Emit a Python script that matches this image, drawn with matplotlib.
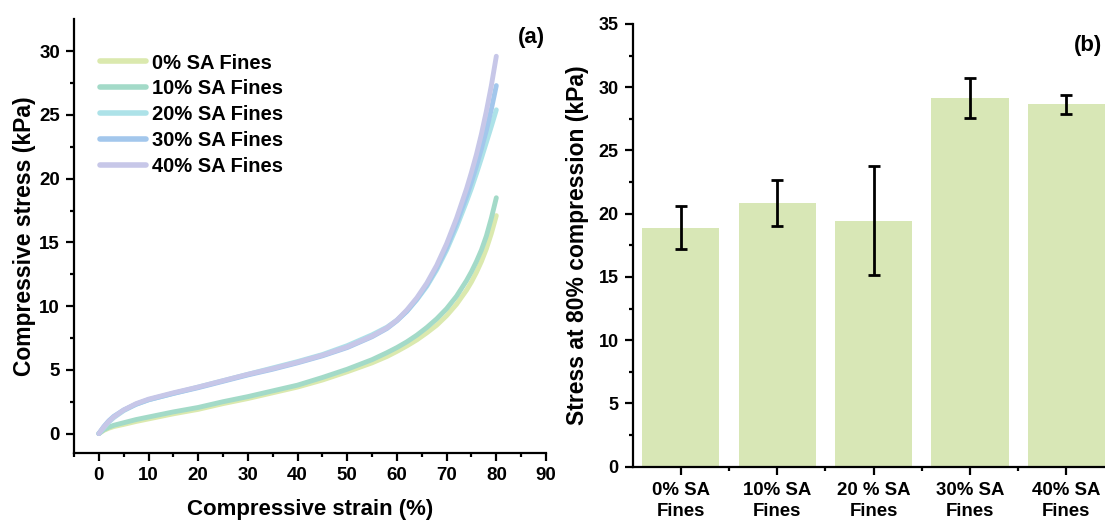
import matplotlib
matplotlib.use("Agg")
import matplotlib.pyplot as plt
from matplotlib.ticker import MultipleLocator, FixedLocator

plt.rcParams['font.family'] = ['Liberation Sans', 'DejaVu Sans']
plt.rcParams['font.weight'] = 'bold'
plt.rcParams['axes.labelweight'] = 'bold'

# ---- (a) stress-strain curves ----
strain = [0, 1, 2, 3, 5, 7.5, 10, 15, 20, 25, 30, 35, 40, 45, 50, 55, 58,
          60, 62, 64, 66, 68, 70, 72, 74, 75, 76, 77, 78, 79, 80]

stress_0 = [0, 0.25, 0.42, 0.55, 0.72, 0.95, 1.15, 1.55, 1.9, 2.35, 2.75, 3.2,
            3.65, 4.2, 4.85, 5.55, 6.05, 6.45, 6.88, 7.35, 7.9, 8.5, 9.25,
            10.15, 11.25, 11.9, 12.65, 13.5, 14.5, 15.7, 17.1]
stress_10 = [0, 0.3, 0.5, 0.65, 0.85, 1.1, 1.3, 1.7, 2.05, 2.5, 2.9, 3.35,
             3.8, 4.4, 5.05, 5.8, 6.35, 6.75, 7.2, 7.72, 8.32, 9.0, 9.8,
             10.78, 12.0, 12.7, 13.5, 14.4, 15.5, 16.9, 18.5]
stress_20 = [0, 0.45, 0.9, 1.25, 1.8, 2.3, 2.65, 3.15, 3.65, 4.15, 4.65, 5.15,
             5.65, 6.2, 6.9, 7.75, 8.35, 8.9, 9.6, 10.5, 11.55, 12.85, 14.4,
             16.2, 18.2, 19.25, 20.4, 21.6, 22.85, 24.1, 25.4]
stress_30 = [0, 0.55, 1.0, 1.35, 1.85, 2.3, 2.65, 3.15, 3.6, 4.1, 4.6, 5.05,
             5.55, 6.1, 6.75, 7.6, 8.25, 8.85, 9.6, 10.55, 11.65, 13.0, 14.6,
             16.5, 18.6, 19.75, 21.0, 22.35, 23.8, 25.45, 27.3]
stress_40 = [0, 0.5, 0.95, 1.3, 1.85, 2.35, 2.7, 3.2, 3.65, 4.15, 4.65, 5.1,
             5.6, 6.15, 6.8, 7.65, 8.3, 8.9, 9.7, 10.65, 11.8, 13.2, 14.9,
             16.9, 19.2, 20.5, 21.9, 23.5, 25.3, 27.3, 29.6]

curve_labels = ['0% SA Fines', '10% SA Fines', '20% SA Fines',
                '30% SA Fines', '40% SA Fines']
curve_colors = ['#dbe9ae', '#a3dac8', '#ade2e8', '#a3c7ec', '#c7c7e8']

# ---- (b) stress at 80 % compression ----
bar_labels = ['0% SA\nFines', '10% SA\nFines', '20 % SA\nFines',
              '30% SA\nFines', '40% SA\nFines']
bar_means = [18.9, 20.85, 19.45, 29.15, 28.65]
bar_errors = [1.7, 1.85, 4.3, 1.6, 0.75]
bar_color = '#d8e7b6'

W, H = 1105, 521
fig = plt.figure(figsize=(W / 100, H / 100), dpi=100)

ax1 = fig.add_axes([74 / W, (H - 452.7) / H, 472 / W, 433.4 / H])
ax2 = fig.add_axes([632.7 / W, (H - 466.7) / H, 481.8 / W, 442.7 / H])

for ys, lab, col in zip([stress_0, stress_10, stress_20, stress_30, stress_40],
                        curve_labels, curve_colors):
    ax1.plot(strain, ys, color=col, lw=3.5, label=lab,
             solid_capstyle='round', solid_joinstyle='round')

ax1.set_xlim(-5, 90)
ax1.set_ylim(-1.5, 32.5)
ax1.xaxis.set_major_locator(MultipleLocator(10))
ax1.xaxis.set_minor_locator(MultipleLocator(5))
ax1.yaxis.set_major_locator(FixedLocator([0, 5, 10, 15, 20, 25, 30]))
ax1.yaxis.set_minor_locator(FixedLocator([2.5, 7.5, 12.5, 17.5, 22.5, 27.5]))
ax1.set_xlabel('Compressive strain (%)', fontsize=16, va='center')
ax1.set_ylabel('Compressive stress (kPa)', fontsize=16.5, va='center')
ax1.xaxis.set_label_coords(0.5, -0.132)
ax1.yaxis.set_label_coords(-0.104, 0.5)
ax1.text(531 / W, (H - 38) / H, '(a)', transform=fig.transFigure,
         fontsize=16, ha='center', va='center')
leg = ax1.legend(loc='upper left', bbox_to_anchor=(0.055, 0.921), frameon=False,
                 fontsize=14.5, handlelength=2.3, handletextpad=0.3,
                 labelspacing=0.34, borderpad=0, borderaxespad=0)
for line in leg.get_lines():
    line.set_linewidth(4)

ax2.bar(range(len(bar_means)), bar_means, width=0.8, color=bar_color,
        yerr=bar_errors, error_kw=dict(ecolor='black', elinewidth=2,
                                       capsize=4.5, capthick=2))
ax2.set_xlim(-0.5, 4.5)
ax2.set_ylim(0, 35)
ax2.yaxis.set_major_locator(MultipleLocator(5))
ax2.yaxis.set_minor_locator(MultipleLocator(2.5))
ax2.set_ylabel('Stress at 80% compression (kPa)', fontsize=16.5, va='center')
ax2.yaxis.set_label_coords(-0.1156, 0.5)
ax2.text(1088 / W, (H - 45) / H, '(b)', transform=fig.transFigure,
         fontsize=16, ha='center', va='center')

for ax, lsize in ((ax1, 13.5), (ax2, 13)):
    ax.spines['top'].set_visible(False)
    ax.spines['right'].set_visible(False)
    for s in ('left', 'bottom'):
        ax.spines[s].set_linewidth(1.6)
    ax.tick_params(which='major', direction='out', length=6, width=1.6, pad=4)
    ax.tick_params(which='minor', direction='out', length=3, width=1.6)
    ax.tick_params(axis='y', labelsize=lsize)
ax1.tick_params(axis='x', labelsize=13.5)
ax2.tick_params(axis='x', labelsize=13.4, pad=5)

ax2.set_xticks(range(len(bar_labels)))
ax2.set_xticklabels(bar_labels, fontsize=13.4, linespacing=1.28)
ax2.xaxis.set_minor_locator(FixedLocator([0.5, 1.5, 2.5, 3.5]))

for ax in (ax1, ax2):
    for t in ax.get_xticklabels() + ax.get_yticklabels():
        t.set_fontweight('bold')

fig.savefig('out.png', dpi=100)
